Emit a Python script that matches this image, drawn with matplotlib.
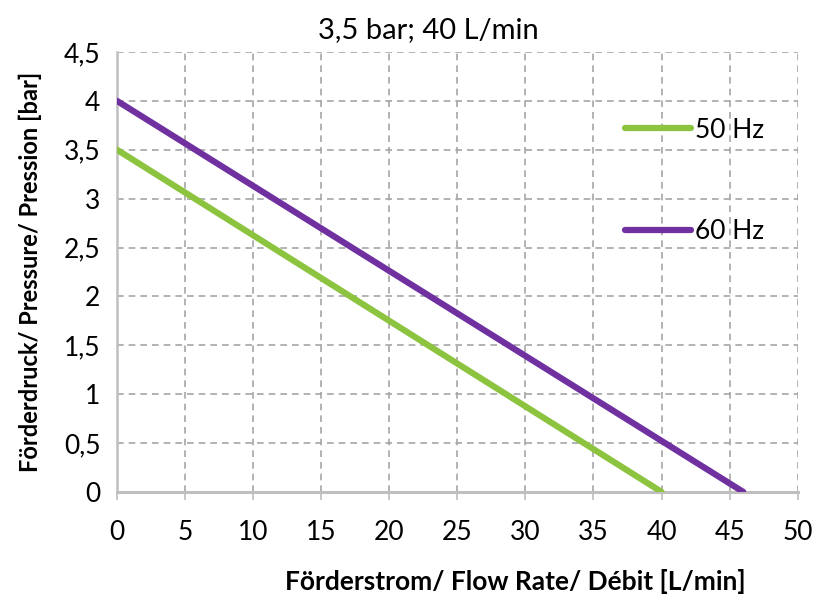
import matplotlib
matplotlib.use("Agg")
import matplotlib.pyplot as plt
from matplotlib.ticker import FuncFormatter

plt.rcParams['font.family'] = ['Lato', 'DejaVu Sans']

flow_50 = [0, 40]
pressure_50 = [3.5, 0]
flow_60 = [0, 46]
pressure_60 = [4.0, 0]
labels = ["50 Hz", "60 Hz"]
title = "3,5 bar; 40 L/min"
xlabel = "Förderstrom/ Flow Rate/ Débit [L/min]"
ylabel = "Förderdruck/ Pressure/ Pression [bar]"
xticks = list(range(0, 51, 5))
yticks = [0, 0.5, 1, 1.5, 2, 2.5, 3, 3.5, 4, 4.5]

fig = plt.figure(figsize=(8.27, 6.05), dpi=100)
ax = fig.add_axes([0.1415, 0.187, 0.823, 0.727])

ax.plot(flow_50, pressure_50, color="#8CC43F", lw=4.5, solid_capstyle="round", label=labels[0], zorder=3)
ax.plot(flow_60, pressure_60, color="#7030A0", lw=4.5, solid_capstyle="round", label=labels[1], zorder=3)

ax.set_xlim(0, 50)
ax.set_ylim(0, 4.5)
ax.set_xticks(xticks)
ax.set_yticks(yticks)
fmt = FuncFormatter(lambda v, p: (f"{v:g}").replace(".", ","))
ax.xaxis.set_major_formatter(fmt)
ax.yaxis.set_major_formatter(fmt)
ax.grid(True, color="#a6a6a6", linestyle=(0, (4, 3)), lw=1.2)
ax.set_axisbelow(True)
for s in ["top", "right"]:
    ax.spines[s].set_visible(False)
ax.spines["left"].set_color("#bfbfbf")
ax.spines["bottom"].set_color("#bfbfbf")
ax.spines["left"].set_linewidth(1.8)
ax.spines["bottom"].set_linewidth(2.2)
ax.tick_params(axis="x", length=6, width=1.2, color="#bfbfbf", labelsize=19, pad=14)
ax.tick_params(axis="y", length=0, labelsize=19, pad=12)

fig.text(428 / 827, 1 - 30 / 605, title, fontsize=21, ha="center", va="center")
ax.set_xlabel(xlabel, fontsize=19, fontweight="bold")
ax.xaxis.set_label_coords((515 - 117) / 680, -(582 - 492) / 440, transform=ax.transAxes)
ax.xaxis.label.set_va("center")
ax.set_ylabel(ylabel, fontsize=17, fontweight="bold")
ax.yaxis.set_label_coords(-(117 - 30) / 680, 0.5, transform=ax.transAxes)
ax.yaxis.label.set_va("center")

leg = ax.legend(loc="upper right", bbox_to_anchor=(0.985, 0.905), frameon=False,
                fontsize=19, handlelength=2.5, handletextpad=0.15, labelspacing=2.9)

fig.savefig("out.png", dpi=100)
